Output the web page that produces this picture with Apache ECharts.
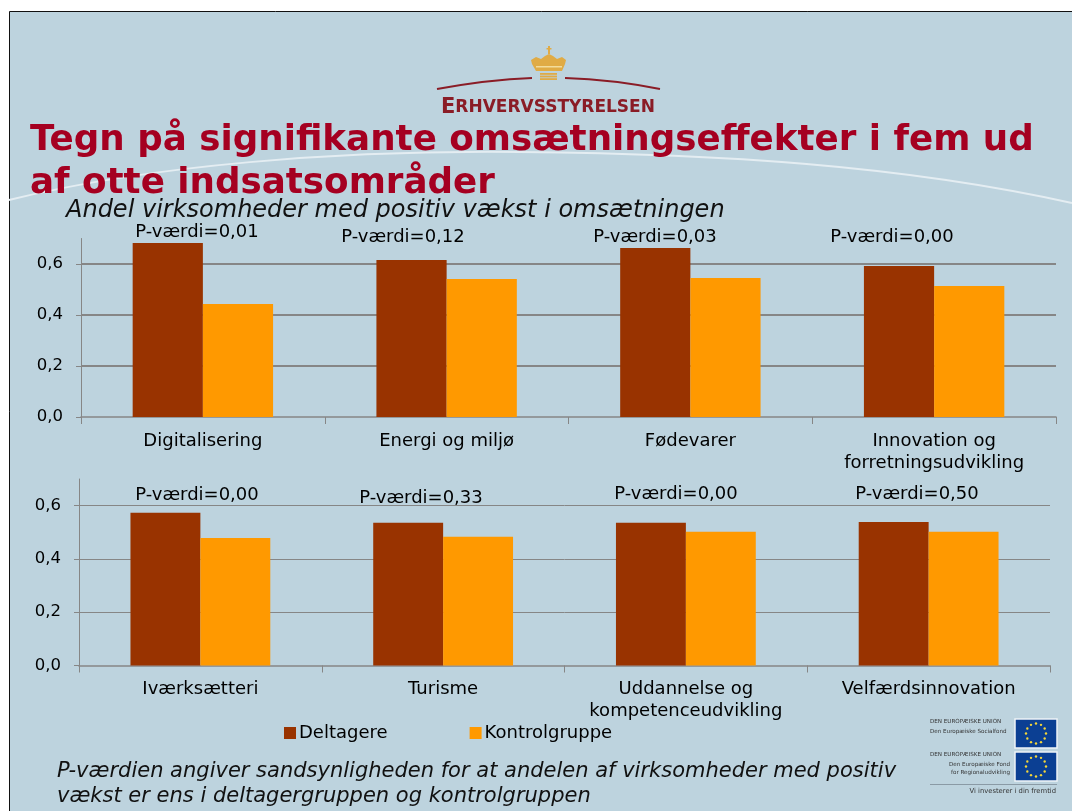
<!DOCTYPE html>
<html><head><meta charset="utf-8">
<style>html,body{margin:0;padding:0;background:#fff}#c{width:1072px;height:811px}</style>
<script src="https://cdn.jsdelivr.net/npm/echarts@6/dist/echarts.min.js"></script>
</head><body><div id="c"></div>
<script>
const categoriesTop = ['Digitalisering','Energi og miljø','Fødevarer','Innovation og\nforretningsudvikling'];
const categoriesBottom = ['Iværksætteri','Turisme','Uddannelse og\nkompetenceudvikling','Velfærdsinnovation'];
const deltagereTop = [0.682,0.616,0.663,0.592];
const kontrolTop = [0.443,0.541,0.545,0.514];
const deltagereBottom = [0.573,0.536,0.536,0.539];
const kontrolBottom = [0.479,0.483,0.502,0.502];
const pValuesTop = ['P-værdi=0,01','P-værdi=0,12','P-værdi=0,03','P-værdi=0,00'];
const pValuesBottom = ['P-værdi=0,00','P-værdi=0,33','P-værdi=0,00','P-værdi=0,50'];
const seriesNames = ['Deltagere','Kontrolgruppe'];
const yTicks = [0,0.2,0.4,0.6];
const titleLines = ['Tegn på signifikante omsætningseffekter i fem ud','af otte indsatsområder'];
const subtitle = 'Andel virksomheder med positiv vækst i omsætningen';
const footnote = ['P-værdien angiver sandsynligheden for at andelen af virksomheder med positiv','vækst er ens i deltagergruppen og kontrolgruppen'];

const F='"DejaVu Sans"', GREY='#868686', BROWN='#993300', ORANGE='#FF9900', RED='#A50021', LOGO='#8a1c26', GOLD='#e0ab45';
const pPosTop=[[197,232],[403,237],[655,237],[892,237]];
const pPosBottom=[[197,495],[421,498],[676,494],[917,494]];
const txt=(x,y,t,s,o={})=>({type:'text',x,y,z:o.z||20,silent:true,style:{text:t,font:`${o.i?'italic ':''}${o.b?'bold ':''}${s}px ${F}`,fill:o.c||'#000',align:o.a||'left',verticalAlign:'middle'}});
const rc=(x,y,w,h,fill,z=-5)=>({type:'rect',z,silent:true,shape:{x,y,width:w,height:h},style:{fill}});
const curve=(x1,y1,cx1,cy1,cx2,cy2,x2,y2,stroke,lineWidth,z)=>({type:'bezierCurve',z,silent:true,shape:{x1,y1,cpx1:cx1,cpy1:cy1,cpx2:cx2,cpy2:cy2,x2,y2},style:{fill:'none',stroke,lineWidth}});

function flag(x,y){
  const els=[{type:'rect',z:-5,silent:true,shape:{x,y,width:42,height:29},style:{fill:'#0b3f93',stroke:'#eef4f7',lineWidth:1.5}}];
  for(let k=0;k<12;k++){const a=k*Math.PI/6;
    els.push({type:'circle',z:-4,silent:true,shape:{cx:x+21+Math.cos(a)*10,cy:y+14.5+Math.sin(a)*10,r:1.2},style:{fill:'#f4d63a'}});}
  return els;
}
const crown=[
 {type:'polygon',z:-5,silent:true,shape:{points:[[536,71],[532,64],[531,60],[536,57],[541,59],[545,56],[549,54],[553,56],[557,59],[562,57],[566,60],[565,64],[562,71]]},style:{fill:GOLD}},
 rc(548,46,2,8,GOLD), rc(546.5,48,5,1.5,GOLD),
 rc(536,66,26,1.5,'#f3dc9c'),
 rc(540,73,17,1.8,GOLD), rc(540,75.6,17,1.8,GOLD), rc(540,78.2,17,1.8,GOLD)
];

const graphic=[
 {type:'rect',z:-20,silent:true,shape:{x:9.5,y:11.5,width:1070,height:810},style:{fill:'#BDD3DE',stroke:'#111',lineWidth:1}},
 curve(9,200,150,165,340,150,520,152,'#E4EDF2',2,-10),
 curve(520,152,720,154,900,165,1072,203,'#E4EDF2',2,-10),
 curve(437,89,470,83,505,79,532,78,LOGO,2,-5),
 curve(565,78,595,79,630,83,660,89,LOGO,2,-5),
 ...crown,
 {type:'text',x:441,y:108,z:20,silent:true,style:{text:'{a|E}{b|RHVERVSSTYRELSEN}',verticalAlign:'middle',rich:{a:{font:`bold 21px ${F}`,fill:LOGO},b:{font:`bold 17px ${F}`,fill:LOGO}}}},
 txt(30,141,titleLines[0],35.7,{b:1,c:RED}),
 txt(30,184,titleLines[1],35.7,{b:1,c:RED}),
 txt(66,210.5,subtitle,24,{i:1,c:'#111'}),
 ...pValuesTop.map((t,i)=>txt(pPosTop[i][0],pPosTop[i][1],t,18,{a:'center'})),
 ...pValuesBottom.map((t,i)=>txt(pPosBottom[i][0],pPosBottom[i][1],t,18,{a:'center'})),
 txt(57,772,footnote[0],21,{i:1,c:'#111'}),
 txt(57,797,footnote[1],21,{i:1,c:'#111'}),
 ...flag(1015,719),...flag(1015,752),
 txt(930,722,'DEN EUROPÆISKE UNION',5.6,{c:'#333'}),
 txt(930,732,'Den Europæiske Socialfond',5.6,{c:'#333'}),
 txt(930,755,'DEN EUROPÆISKE UNION',5.6,{c:'#333'}),
 txt(1010,765,'Den Europæiske Fond',5.6,{c:'#333',a:'right'}),
 txt(1010,773,'for Regionaludvikling',5.6,{c:'#333',a:'right'}),
 rc(930,784,127,1,'#8a9aa5'),
 txt(1056,791,'Vi investerer i din fremtid',6.8,{c:'#333',a:'right'})
];
const yAxis=(gi,w)=>({type:'value',gridIndex:gi,min:0,max:0.7,interval:0.2,
  axisLine:{show:true,lineStyle:{color:GREY,width:1}},axisTick:{show:true,length:5,customValues:yTicks,lineStyle:{color:GREY}},
  splitLine:{show:true,showMinLine:false,lineStyle:{color:GREY,width:w}},
  axisLabel:{color:'#000',fontFamily:F,fontSize:16.5,margin:18,customValues:yTicks,formatter:v=>v.toFixed(1).replace('.',',')}});
const xAxis=(gi,d)=>({type:'category',gridIndex:gi,data:d,
  axisLine:{show:true,onZero:false,lineStyle:{color:GREY,width:1.5}},axisTick:{show:true,length:7,lineStyle:{color:GREY}},
  axisLabel:{color:'#000',fontFamily:F,fontSize:18,lineHeight:22,margin:13,interval:0}});
const bar=(name,data,i,color)=>({name,type:'bar',xAxisIndex:i,yAxisIndex:i,data,barGap:0,barCategoryGap:'42.4%',itemStyle:{color},animation:false});
const chart=echarts.init(document.getElementById('c'),null,{renderer:'canvas'});
chart.setOption({
 animation:false,backgroundColor:'#fff',
 graphic,
 grid:[{left:81,top:238.5,width:975,height:178.5},{left:79,top:479,width:971,height:186.5}],
 xAxis:[xAxis(0,categoriesTop),xAxis(1,categoriesBottom)],
 yAxis:[yAxis(0,2),yAxis(1,1)],
 legend:{left:279,top:719,itemWidth:12,itemHeight:12,itemGap:82,icon:'rect',data:seriesNames,
   textStyle:{color:'#000',fontFamily:F,fontSize:18,padding:[0,0,0,-2]},selectedMode:false},
 series:[
  bar(seriesNames[0],deltagereTop,0,BROWN),bar(seriesNames[1],kontrolTop,0,ORANGE),
  bar(seriesNames[0],deltagereBottom,1,BROWN),bar(seriesNames[1],kontrolBottom,1,ORANGE)
 ]
});
</script></body></html>
